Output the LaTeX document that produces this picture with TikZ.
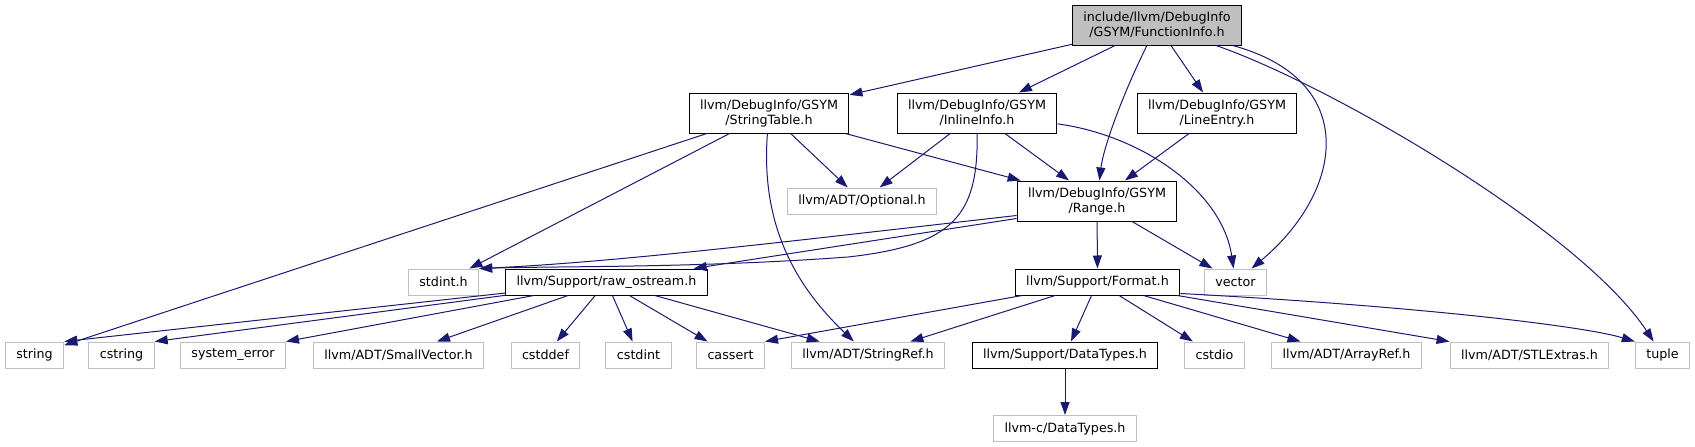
\documentclass[tikz,border=0pt]{standalone}
\usepackage{fontspec}
\setmainfont{DejaVu Sans}
\usetikzlibrary{arrows.meta}
\definecolor{edgeblue}{HTML}{191970}
\definecolor{boxgray}{HTML}{BFBFBF}

\begin{document}
\begin{tikzpicture}[x=1pt, y=-1pt,
    hdr/.style={draw=black, line width=1pt, align=center, inner xsep=11pt, inner ysep=0pt,
        minimum height=26pt, font=\fontsize{12.7}{15}\selectfont},
    sys/.style={hdr, draw=boxgray},
    two/.style={minimum height=40pt},
    dep/.style={draw=edgeblue, line width=1pt, -{Triangle[length=13pt,width=9pt]}}]
    \useasboundingbox (0,0) rectangle (1695,447);

    % headers of the project
    \node[hdr, two, fill=boxgray] (fi) at (1157,25) {include/llvm/DebugInfo\\/GSYM/FunctionInfo.h};
    \node[hdr, two] (strtab) at (769,113) {llvm/DebugInfo/GSYM\\/StringTable.h};
    \node[hdr, two] (inl) at (977,113) {llvm/DebugInfo/GSYM\\/InlineInfo.h};
    \node[hdr, two] (lineent) at (1217,113) {llvm/DebugInfo/GSYM\\/LineEntry.h};
    \node[hdr, two] (range) at (1097,201) {llvm/DebugInfo/GSYM\\/Range.h};
    \node[hdr] (rawos) at (606.5,282) {llvm/Support/raw\_ostream.h};
    \node[hdr] (format) at (1097.5,282) {llvm/Support/Format.h};
    \node[hdr] (dtypes) at (1065,355) {llvm/Support/DataTypes.h};

    % other headers
    \node[sys] (optional) at (862,201) {llvm/ADT/Optional.h};
    \node[sys] (stdint) at (443.5,282) {stdint.h};
    \node[sys] (vector) at (1235.5,282) {vector};
    \node[sys] (string) at (34.5,355) {string};
    \node[sys] (cstring) at (121.5,355) {cstring};
    \node[sys] (syserr) at (233,355) {system\_error};
    \node[sys] (smallvec) at (398.5,355) {llvm/ADT/SmallVector.h};
    \node[sys] (cstddef) at (545.5,355) {cstddef};
    \node[sys] (cstdint) at (638.5,355) {cstdint};
    \node[sys] (cassert) at (730.5,355) {cassert};
    \node[sys] (strref) at (868,355) {llvm/ADT/StringRef.h};
    \node[sys] (cstdio) at (1214.5,355) {cstdio};
    \node[sys] (arrayref) at (1346.5,355) {llvm/ADT/ArrayRef.h};
    \node[sys] (stlextras) at (1529.5,355) {llvm/ADT/STLExtras.h};
    \node[sys] (tuple) at (1662.5,355) {tuple};
    \node[sys] (cdtypes) at (1065,428.5) {llvm-c/DataTypes.h};

    % FunctionInfo.h
    \draw[dep] (fi) -- (strtab);
    \draw[dep] (fi) -- (inl);
    \draw[dep] (fi) .. controls (1120,100) and (1103,150) .. (range);
    \draw[dep] (fi) -- (lineent);
    \draw[dep] (fi) .. controls (1360,80) and (1345,190) .. (vector);
    \draw[dep] (fi) .. controls (1330,85) and (1580,230) .. (tuple);

    % StringTable.h
    \draw[dep] (strtab) -- (string);
    \draw[dep] (strtab) -- (stdint);
    \draw[dep] (strtab) .. controls (760,230) and (800,290) .. (strref);
    \draw[dep] (strtab) -- (optional);
    \draw[dep] (strtab) -- (range);

    % InlineInfo.h and LineEntry.h
    \draw[dep] (inl) -- (optional);
    \draw[dep] (inl) -- (range);
    \draw[dep] (inl) .. controls (1140,135) and (1222,190) .. (vector);
    \draw[dep] (inl) .. controls (978,215) and (955,245) .. (848,257)
        .. controls (700,268) and (560,266) .. (stdint.north east);
    \draw[dep] (lineent) -- (range);

    % Range.h
    \draw[dep] (range) -- (format);
    \draw[dep] (range) -- (vector);
    \draw[dep] ([yshift=3pt]range.south west) -- (rawos);
    \draw[dep] ([yshift=6pt]range.south west) .. controls (800,240) and (620,262) .. (stdint.north east);

    % raw_ostream.h
    \draw[dep] (rawos) -- (string.north east);
    \draw[dep] (rawos) -- (cstring.north east);
    \draw[dep] (rawos) -- (syserr.north east);
    \foreach \dst in {smallvec, cstddef, cstdint, cassert, strref}
        \draw[dep] (rawos) -- (\dst);

    % Format.h
    \draw[dep] (format) -- (cassert.north east);
    \foreach \dst in {strref, dtypes, cstdio, arrayref, stlextras}
        \draw[dep] (format) -- (\dst);
    \draw[dep] ([yshift=2pt]format.south east) .. controls (1400,305) and (1580,325) .. (tuple.north west);

    \draw[dep] (dtypes) -- (cdtypes);
\end{tikzpicture}
\end{document}
